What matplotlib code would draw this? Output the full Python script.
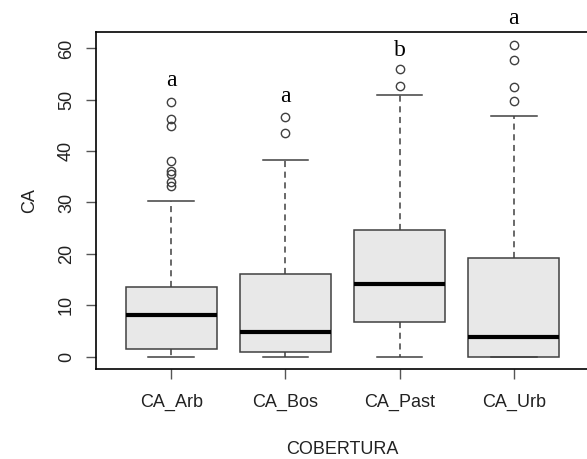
import matplotlib
matplotlib.use("Agg")
import matplotlib.pyplot as plt

# values
labels = ["CA_Arb", "CA_Bos", "CA_Past", "CA_Urb"]
q1 = [1.4, 0.85, 6.8, 0.0]
med = [8.1, 4.7, 14.2, 3.8]
q3 = [13.6, 16.0, 24.7, 19.2]
whislo = [0.0, 0.0, 0.0, 0.0]
whishi = [30.2, 38.3, 50.9, 46.8]
fliers = [
    [49.5, 46.3, 44.8, 38.1, 36.1, 35.6, 34.0, 33.3],
    [46.7, 43.5],
    [56.0, 52.6],
    [60.6, 57.8, 52.4, 49.7],
]
letters = ["a", "a", "b", "a"]
letter_y = [53.7, 50.7, 59.6, 65.8]

plt.rcParams["font.family"] = ["Liberation Sans", "DejaVu Sans"]

fig = plt.figure(figsize=(5.87, 4.59), dpi=100)
ax = fig.add_axes([96/587, 1-369/459, 493/587, 337/459])

stats = []
for i in range(len(labels)):
    stats.append(dict(label=labels[i], q1=q1[i], med=med[i], q3=q3[i],
                      whislo=whislo[i], whishi=whishi[i], fliers=fliers[i]))

edge = "#404040"
ax.bxp(stats, positions=range(1, 5), widths=0.8, patch_artist=True,
       boxprops=dict(facecolor="#e8e8e8", edgecolor=edge, linewidth=1.1),
       medianprops=dict(color="black", linewidth=3, solid_capstyle="butt"),
       whiskerprops=dict(color=edge, linewidth=1.1, linestyle=(0, (4, 3))),
       capprops=dict(color=edge, linewidth=1.1),
       capwidths=0.4,
       flierprops=dict(marker="o", markersize=6, markerfacecolor="none",
                       markeredgecolor=edge, markeredgewidth=1.0))

for i in range(len(labels)):
    ax.text(i + 1, letter_y[i], letters[i], ha="center", va="center",
            fontsize=17, family=["Liberation Serif"], clip_on=False)

ax.set_xlim(0.34, 4.66)
ax.set_ylim(-2.43, 63.2)
ax.set_yticks([0, 10, 20, 30, 40, 50, 60])
ax.set_yticklabels(["0", "10", "20", "30", "40", "50", "60"], rotation=90, va="center")
ax.set_xticks([1, 2, 3, 4])
ax.set_xticklabels(labels)
ax.tick_params(axis="both", labelsize=13, length=7.2, width=1.0, color="#555555",
               labelcolor="#222222")
ax.tick_params(axis="x", pad=11)
ax.tick_params(axis="y", pad=8)
for s in ax.spines.values():
    s.set_linewidth(1.2)
    s.set_color("black")

ax.set_xlabel("COBERTURA", fontsize=13, color="#222222", labelpad=21)
ax.set_ylabel("CA", fontsize=13, color="#222222", labelpad=14)

fig.savefig("out.png", dpi=100)
